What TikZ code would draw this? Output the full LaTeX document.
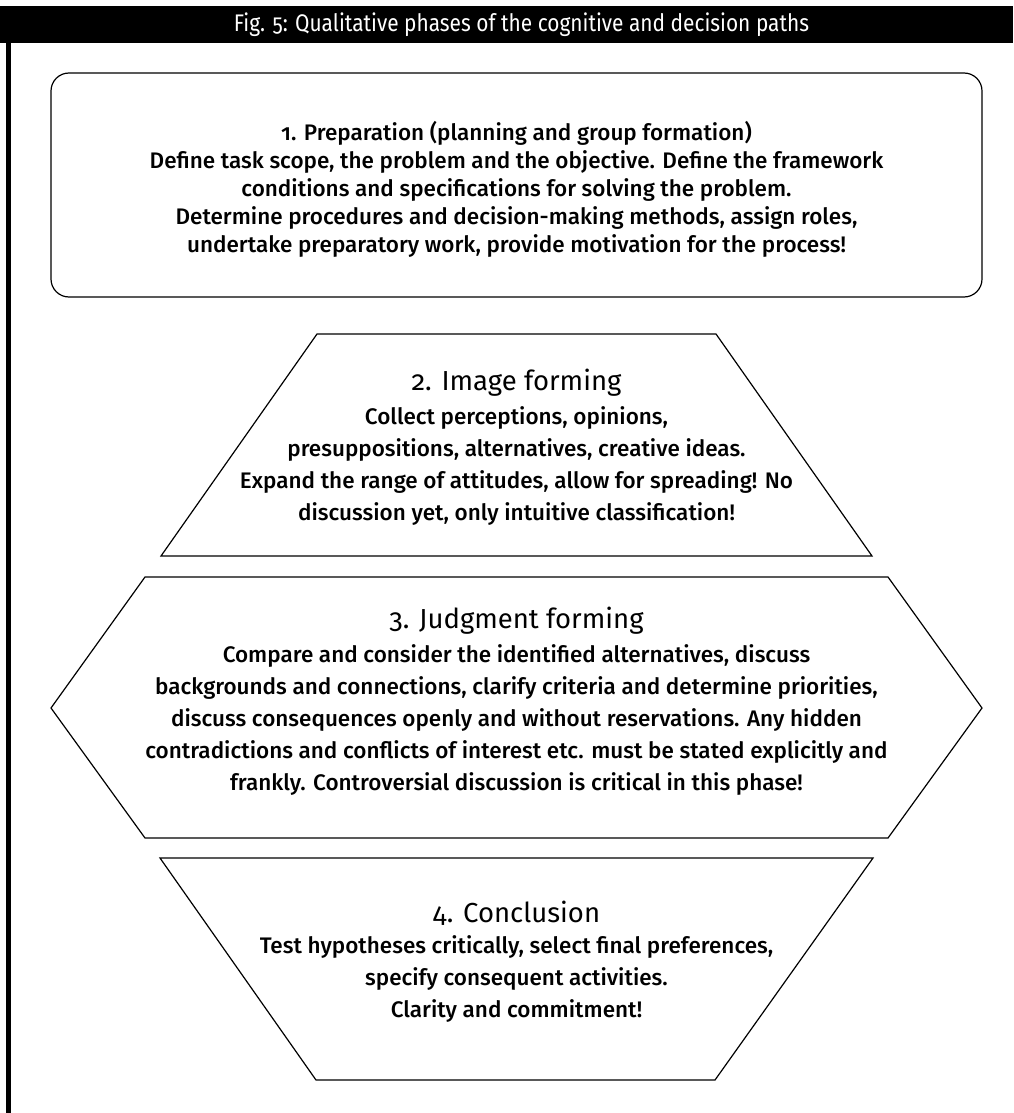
\documentclass[tikz,border=0pt]{standalone}
\usepackage{fontspec}
\setmainfont{Fira Sans}[Numbers=OldStyle]
\newfontfamily\firamed{Fira Sans Medium}[Numbers=OldStyle]
\newfontfamily\headfont{Fira Sans}[Numbers=OldStyle,FakeStretch=0.87]
\begin{document}
\begin{tikzpicture}[x=1pt,y=-1pt,
  shapeline/.style={draw=black,line width=1.2pt,line join=miter},
  headtext/.style={text=white,font=\headfont\fontsize{24}{28}\selectfont,inner sep=0pt},
  titletext/.style={font=\fontsize{27.5}{32}\selectfont,inner sep=0pt},
  bodytext/.style={font=\firamed\fontsize{22.5}{32}\selectfont,align=center,inner sep=0pt},
  boxtext/.style={font=\firamed\fontsize{22.5}{28}\selectfont,align=center,inner sep=0pt}]
\useasboundingbox (0,0) rectangle (1013,1113);
\fill[white] (0,0) rectangle (1013,1113);
% header bar and left rule
\fill[black] (0,6) rectangle (1013,43);
\fill[black] (5.5,43) rectangle (11,1113);
\node[headtext] (head) at (521.5,25) {Fig. 5: Qualitative phases of the cognitive and decision paths};
% phase 1
\draw[shapeline,rounded corners=18pt] (51,73) rectangle (982,297);
\node[boxtext] (p1) at (516.5,189) {1. Preparation (planning and group formation)\\
Define task scope, the problem and the objective. Define the framework\\
conditions and specifications for solving the problem.\\
Determine procedures and decision-making methods, assign roles,\\
undertake preparatory work, provide motivation for the process!};
% phase 2
\draw[shapeline] (317,334) -- (716,334) -- (872,556) -- (161,556) -- cycle;
\node[titletext] (t2) at (516.5,383) {2. Image forming};
\node[bodytext] (b2) at (516.5,465.5) {Collect perceptions, opinions,\\
presuppositions, alternatives, creative ideas.\\
Expand the range of attitudes, allow for spreading! No\\
discussion yet, only intuitive classification!};
% phase 3
\draw[shapeline] (51,708) -- (145,577) -- (888,577) -- (982,708) -- (888,838) -- (145,838) -- cycle;
\node[titletext] (t3) at (516.5,621) {3. Judgment forming};
\node[bodytext] (b3) at (516.5,720) {Compare and consider the identified alternatives, discuss\\
backgrounds and connections, clarify criteria and determine priorities,\\
discuss consequences openly and without reservations. Any hidden\\
contradictions and conflicts of interest etc. must be stated explicitly and\\
frankly. Controversial discussion is critical in this phase!};
% phase 4
\draw[shapeline] (160,858) -- (873,858) -- (715,1080) -- (316,1080) -- cycle;
\node[titletext] (t4) at (516.5,913) {4. Conclusion};
\node[bodytext] (b4) at (516.5,978.5) {Test hypotheses critically, select final preferences,\\
specify consequent activities.\\
Clarity and commitment!};
\end{tikzpicture}
\end{document}
